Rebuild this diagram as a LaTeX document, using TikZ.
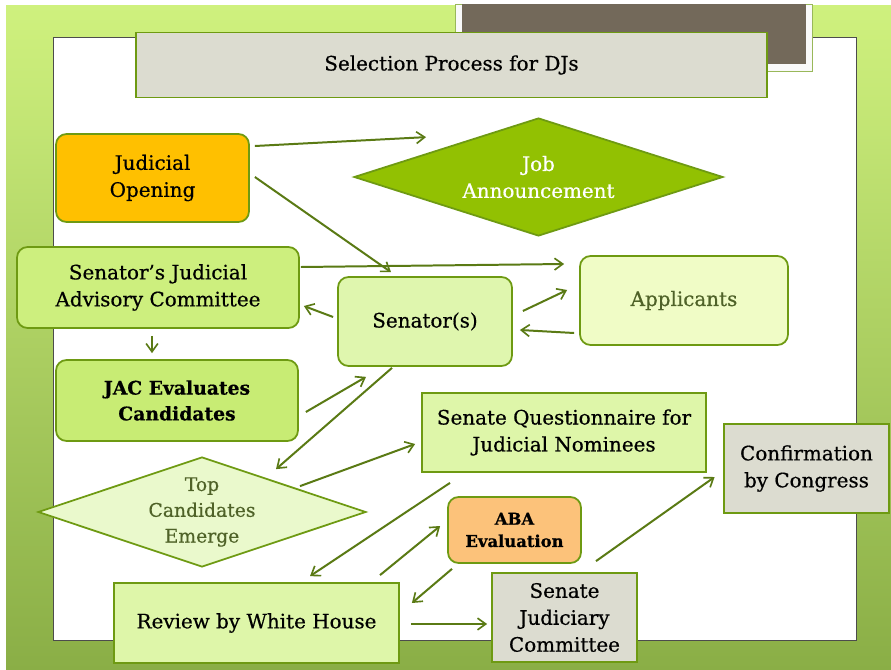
\documentclass[tikz,border=0pt]{standalone}
\usepackage{fontspec}
\setmainfont{DejaVu Serif}[FakeBold=0.5]
\usetikzlibrary{arrows.meta,shapes.geometric}
\definecolor{bgtop}{HTML}{CFF17E}
\definecolor{bgbot}{HTML}{8AAE46}
\definecolor{edgec}{HTML}{6E9A12}
\definecolor{arrowc}{HTML}{5A7A14}
\definecolor{brownc}{HTML}{73695A}
\definecolor{grayfill}{HTML}{DCDCD0}
\definecolor{orangec}{HTML}{FFC000}
\definecolor{jagreen}{HTML}{92C102}
\definecolor{sjacfill}{HTML}{CDEF7E}
\definecolor{senfill}{HTML}{DFF6AE}
\definecolor{appfill}{HTML}{F0FCC6}
\definecolor{jacfill}{HTML}{C8EC74}
\definecolor{topfill}{HTML}{EAF9CC}
\definecolor{sqfill}{HTML}{DEF6A9}
\definecolor{abafill}{HTML}{FCC27A}
\definecolor{olivetext}{HTML}{4F6228}
\begin{document}
\begin{tikzpicture}[x=0.03cm,y=-0.03cm,
  sz/.style 2 args={minimum width=#1*0.03cm, minimum height=#2*0.03cm},
  base/.style={draw=edgec, line width=1.5pt, inner sep=0pt, align=center,
    font=\fontsize{17}{23}\selectfont, text=black},
  rbox/.style={base, rectangle, rounded corners=9pt},
  sbox/.style={base, rectangle},
  dia/.style={base, diamond},
  arr/.style={draw=arrowc, line width=1.7pt, -{Straight Barb[length=7pt,width=10pt,line width=1.4pt]}}
]
\useasboundingbox (0,0) rectangle (891,670);
\fill[white] (0,0) rectangle (891,670);
\shade[top color=bgtop,bottom color=bgbot] (6,5) rectangle (891,670);
% white panel
\fill[white, draw=black!70, line width=0.8pt] (53,37) rectangle (856,640);
% brown block behind title
\fill[white!95!gray, draw=edgec!70, line width=0.6pt] (455,4) rectangle (812,71);
\fill[brownc] (462,4) rectangle (806,64);

% nodes
\node[sbox, fill=grayfill, sz={631}{65}] (title) at (451.5,65) {Selection Process for DJs};
\node[rbox, fill=orangec, sz={193}{88}] (jo) at (152.5,178) {Judicial\\Opening};
\node[dia, fill=jagreen, aspect=3.1, sz={369}{118}, text=white] (ja) at (538.5,177) {Job\\Announcement};
\node[rbox, fill=sjacfill, sz={282}{81}] (sjac) at (158,287.5) {Senator’s Judicial\\Advisory Committee};
\node[rbox, fill=senfill, sz={174}{89}] (sen) at (425,321.5) {Senator(s)};
\node[rbox, fill=appfill, sz={208}{89}, text=olivetext] (app) at (684,300.5) {Applicants};
\node[rbox, fill=jacfill, sz={242}{81}, font=\fontsize{16}{22}\selectfont\bfseries] (jac) at (177,400.5) {JAC Evaluates\\Candidates};
\node[dia, fill=topfill, aspect=3.0, sz={328}{110}, text=olivetext, font=\fontsize{16}{22}\selectfont] (top) at (202,512) {Top\\Candidates\\Emerge};
\node[sbox, fill=sqfill, sz={284}{79}] (sq) at (564,432.5) {Senate Questionnaire for\\Judicial Nominees};
\node[sbox, fill=grayfill, sz={165}{89}, line width=2.4pt] (conf) at (806.5,468.5) {Confirmation\\by Congress};
\node[rbox, fill=abafill, sz={133}{66}, font=\fontsize{14}{19}\selectfont\bfseries] (aba) at (514.5,530) {ABA\\Evaluation};
\node[sbox, fill=sqfill, sz={285}{80}] (wh) at (256.5,623) {Review by White House};
\node[sbox, fill=grayfill, sz={145}{89}] (sjc) at (564.5,617.5) {Senate\\Judiciary\\Committee};

% connectors
\draw[arr] ([shift={(5,-32)}]jo.east) -- ([shift={(-112.5,20)}]ja.north);
\draw[arr] ([shift={(5,-1)}]jo.east) -- ([shift={(-34,-4)}]sen.north);
\draw[arr] ([shift={(1,-20.5)}]sjac.east) -- ([shift={(-15,-36.5)}]app.west);
\draw[arr] ([shift={(10,-10.5)}]sen.east) -- ([shift={(-12,-10.5)}]app.west);
\draw[arr] ([shift={(-5,32.5)}]app.west) -- ([shift={(7,8.5)}]sen.east);
\draw[arr] ([shift={(-4,-4.5)}]sen.west) -- ([shift={(4,18.5)}]sjac.east);
\draw[arr, line width=1.1pt] ([shift={(-6,7)}]sjac.south) -- ([shift={(-25,-6)}]jac.north);
\draw[arr] ([shift={(7,11.5)}]jac.east) -- ([shift={(-59,10)}]sen.south);
\draw[arr] ([shift={(-33,1)}]sen.south) -- ([shift={(74,13)}]top.north);
\draw[arr] ([shift={(98,30)}]top.north) -- ([shift={(-6,11.5)}]sq.west);
\draw[arr] ([shift={(-114,10)}]sq.south) -- ([shift={(53.5,-6)}]wh.north);
\draw[arr] ([shift={(123.5,-7)}]wh.north) -- ([shift={(-7,-4)}]aba.west);
\draw[arr] ([shift={(-62.5,5)}]aba.south) -- ([shift={(12,-20)}]wh.east);
\draw[arr, line width=0.9pt] ([shift={(11,1)}]wh.east) -- ([shift={(-4,6.5)}]sjc.west);
\draw[arr] ([shift={(31.5,-11)}]sjc.north) -- ([shift={(-8,8.5)}]conf.west);
\end{tikzpicture}
\end{document}
